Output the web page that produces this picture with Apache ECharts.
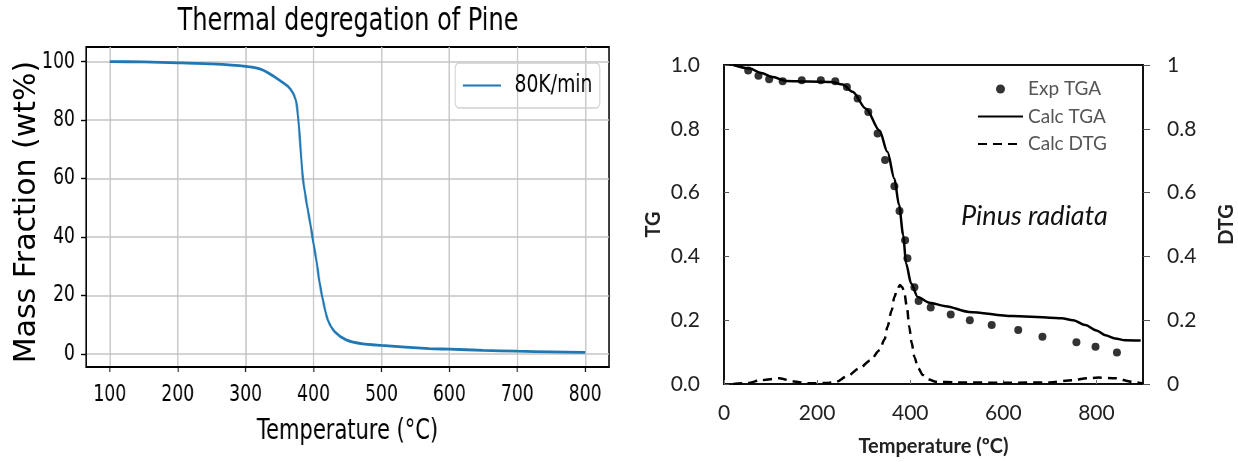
<!DOCTYPE html>
<html>
<head>
<meta charset="utf-8">
<script src="https://cdn.jsdelivr.net/npm/echarts@6/dist/echarts.min.js"></script>
<style>
  html, body { margin: 0; padding: 0; background: #fff; }
  #wrap { position: relative; width: 1238px; height: 462px; }
  /* the left figure is a horizontally squeezed matplotlib plot */
  #left { position: absolute; left: 0; top: 0; width: 827px; height: 462px; transform: scaleX(0.75); transform-origin: 0 0; }
  #right { position: absolute; left: 0; top: 0; width: 1238px; height: 462px; }
</style>
</head>
<body>
<div id="wrap">
  <div id="left"></div>
  <div id="right"></div>
</div>
<script>
// left panel: 80K/min run
var pineTemp = [100, 150, 200, 250, 300, 321, 335, 350, 362, 369.6, 373.5, 375.5, 378, 381, 384, 389, 395, 399, 404, 409, 414.7, 421, 431, 448, 472.5, 500, 570, 600, 650, 700, 750, 800];
var pineMass = [100, 99.9, 99.6, 99.2, 98.4, 97.5, 95.9, 93.6, 91.6, 89.3, 87, 84.7, 79, 69.9, 60.7, 52.7, 44.8, 39, 32.2, 24.2, 17.4, 11.6, 7.6, 4.8, 3.4, 2.9, 1.8, 1.6, 1.2, 0.9, 0.7, 0.5];
var leftXTicks = [100, 200, 300, 400, 500, 600, 700, 800];
var leftYTicks = [0, 20, 40, 60, 80, 100];

// right panel: Pinus radiata
var expTemp = [52, 74, 97, 126, 167, 208, 239, 264, 287, 310, 330, 346, 366, 377, 389, 394, 409, 418, 444, 487, 528, 575, 632, 684, 757, 798, 844];
var expTG   = [0.983, 0.966, 0.955, 0.949, 0.952, 0.952, 0.949, 0.931, 0.895, 0.853, 0.785, 0.702, 0.620, 0.542, 0.451, 0.394, 0.303, 0.260, 0.240, 0.218, 0.200, 0.185, 0.169, 0.148, 0.131, 0.117, 0.099];
var calcTemp = [20, 55, 80, 105, 134, 180, 230, 255, 276, 305, 334, 351, 366, 376, 385, 391, 402, 416, 441, 476, 526, 619, 700, 725, 750, 776, 800, 819, 840, 862, 895];
var calcTG   = [1.0, 0.989, 0.975, 0.962, 0.950, 0.948, 0.947, 0.939, 0.916, 0.863, 0.795, 0.728, 0.644, 0.561, 0.467, 0.378, 0.315, 0.273, 0.255, 0.244, 0.226, 0.213, 0.208, 0.206, 0.200, 0.185, 0.168, 0.153, 0.143, 0.137, 0.136];
var dtgTemp = [20, 50, 80, 119, 150, 180, 220, 241, 265, 291, 315, 334, 345, 351, 360, 366, 372, 378, 383, 387, 393, 398, 403, 409, 417, 427, 440, 455, 500, 600, 700, 748, 780, 805, 841, 876, 900];
var dtgVal  = [0, 0.003, 0.012, 0.018, 0.008, 0.002, 0.003, 0.007, 0.025, 0.049, 0.075, 0.106, 0.14, 0.179, 0.23, 0.273, 0.297, 0.31, 0.303, 0.289, 0.24, 0.179, 0.13, 0.085, 0.05, 0.028, 0.014, 0.007, 0.005, 0.004, 0.005, 0.012, 0.018, 0.02, 0.018, 0.007, 0.002];

function zip(xs, ys) {
  return xs.map(function (x, i) { return [x, ys[i]]; });
}

var dv = "'DejaVu Sans', sans-serif";
var calib = "Lato, 'Open Sans', sans-serif";

// ---------- left chart (drawn wide, squeezed by css) ----------
var leftChart = echarts.init(document.getElementById('left'));
leftChart.setOption({
  animation: false,
  title: {
    text: 'Thermal degregation of Pine',
    left: 464, top: 6, padding: 0, textAlign: 'center',
    textStyle: { fontFamily: dv, fontSize: 32, fontWeight: 'normal', color: '#000' }
  },
  legend: {
    data: [{ name: '80K/min', itemStyle: { opacity: 0 } }],
    left: 607, top: 63,
    padding: [9, 10, 9, 9],
    itemWidth: 51, itemHeight: 14,
    borderColor: '#d0d0d0', borderWidth: 1.3, borderRadius: 5,
    textStyle: { fontFamily: dv, fontSize: 25, color: '#000', lineHeight: 27, padding: [0, 0, 0, 13] }
  },
  grid: { left: 114.7, top: 47, width: 697.3, height: 320, show: true, borderColor: '#000', borderWidth: 1.8, outerBoundsMode: 'none' },
  xAxis: {
    type: 'value', min: 65, max: 835,
    name: 'Temperature (°C)', nameLocation: 'middle', nameGap: 51,
    nameTextStyle: { fontFamily: dv, fontSize: 28, color: '#000' },
    axisLine: { show: true, onZero: false, lineStyle: { color: '#000', width: 1.8 } },
    axisTick: { show: true, length: 5, customValues: leftXTicks, lineStyle: { color: '#000', width: 1.4 } },
    axisLabel: { customValues: leftXTicks, margin: 17, fontFamily: dv, fontSize: 23, color: '#000' },
    splitLine: { show: true, lineStyle: { color: '#c4c4c4', width: 1.8 } }
  },
  yAxis: {
    type: 'value', min: -4.5, max: 105,
    axisLine: { show: true, onZero: false, lineStyle: { color: '#000', width: 1.8 } },
    axisTick: { show: true, length: 6.7, customValues: leftYTicks, lineStyle: { color: '#000', width: 1.4 } },
    axisLabel: { customValues: leftYTicks, margin: 14.7, fontFamily: dv, fontSize: 23, color: '#000' },
    splitLine: { show: true, lineStyle: { color: '#c4c4c4', width: 1.5 } }
  },
  series: [{
    name: '80K/min', type: 'line',
    data: zip(pineTemp, pineMass),
    symbol: 'none', smooth: 0.25,
    lineStyle: { color: '#1f77b4', width: 2.8 },
    itemStyle: { color: 'rgba(0,0,0,0)' }
  }]
});

// ---------- right chart (plus the left y label, which is not squeezed) ----------
var rightChart = echarts.init(document.getElementById('right'));
rightChart.setOption({
  animation: false,
  title: {
    text: 'Pinus radiata',
    left: 961, top: 203, padding: 0,
    textStyle: { fontFamily: calib, fontSize: 27, fontStyle: 'italic', fontWeight: 'normal', color: '#111' }
  },
  graphic: [{
    type: 'text', x: 27, y: 212, rotation: Math.PI / 2,
    style: { text: 'Mass Fraction (wt%)', fontFamily: dv, fontSize: 30, fill: '#000', align: 'center', verticalAlign: 'middle' }
  }],
  legend: {
    data: [
      { name: 'Exp TGA', icon: 'circle' },
      { name: 'Calc TGA', itemStyle: { opacity: 0 } },
      { name: 'Calc DTG', itemStyle: { opacity: 0 } }
    ],
    orient: 'vertical',
    left: 977, top: 79,
    padding: 0,
    itemWidth: 45, itemHeight: 9, itemGap: 7.5,
    textStyle: { fontFamily: calib, fontSize: 19, color: '#555', lineHeight: 20 }
  },
  grid: { left: 724, top: 65, width: 419, height: 319, show: true, borderColor: '#111', borderWidth: 2, outerBoundsMode: 'none' },
  xAxis: {
    type: 'value', min: 0, max: 900, interval: 200,
    name: 'Temperature (ºC)', nameLocation: 'middle', nameGap: 53,
    nameTextStyle: { fontFamily: calib, fontSize: 20, fontWeight: 'bold', color: '#222' },
    axisLine: { show: true, onZero: false, lineStyle: { color: '#111', width: 2 } },
    axisTick: { show: true, inside: true, length: 4, lineStyle: { color: '#777', width: 1 } },
    axisLabel: { showMaxLabel: false, margin: 19, fontFamily: calib, fontSize: 21, color: '#222' },
    splitLine: { show: false }
  },
  yAxis: [
    {
      type: 'value', min: 0, max: 1, interval: 0.2, position: 'left',
      name: 'TG', nameLocation: 'middle', nameGap: 60, nameRotate: 90,
      nameTextStyle: { fontFamily: calib, fontSize: 20, fontWeight: 'bold', color: '#222' },
      axisLine: { show: true, onZero: false, lineStyle: { color: '#111', width: 2 } },
      axisTick: { show: true, inside: true, length: 5, lineStyle: { color: '#555', width: 1 } },
      axisLabel: { margin: 24, fontFamily: calib, fontSize: 21, color: '#222', formatter: function (v) { return v.toFixed(1); } },
      splitLine: { show: false }
    },
    {
      type: 'value', min: 0, max: 1, interval: 0.2, position: 'right',
      name: 'DTG', nameLocation: 'middle', nameGap: 74, nameRotate: 90,
      nameTextStyle: { fontFamily: calib, fontSize: 20, fontWeight: 'bold', color: '#222' },
      axisLine: { show: true, onZero: false, lineStyle: { color: '#111', width: 2 } },
      axisTick: { show: true, length: 7, lineStyle: { color: '#555', width: 1 } },
      axisLabel: {
        margin: 24, fontFamily: calib, fontSize: 21, color: '#222',
        formatter: function (v) { return (v === 0 || v === 1) ? String(v) : v.toFixed(1); }
      },
      splitLine: { show: false }
    }
  ],
  series: [
    {
      name: 'Exp TGA', type: 'scatter', yAxisIndex: 0,
      data: zip(expTemp, expTG),
      symbol: 'circle', symbolSize: 8,
      itemStyle: { color: '#000' }
    },
    {
      name: 'Calc TGA', type: 'line', yAxisIndex: 0,
      data: zip(calcTemp, calcTG),
      symbol: 'none', smooth: 0.3, smoothMonotone: 'x',
      lineStyle: { color: '#000', width: 2.5 }, itemStyle: { color: 'rgba(0,0,0,0)' }
    },
    {
      name: 'Calc DTG', type: 'line', yAxisIndex: 1,
      data: zip(dtgTemp, dtgVal),
      symbol: 'none', smooth: 0.3, smoothMonotone: 'x',
      lineStyle: { color: '#000', width: 2.5, type: [9, 6] }, itemStyle: { color: 'rgba(0,0,0,0)' }
    }
  ]
});
</script>
</body>
</html>
